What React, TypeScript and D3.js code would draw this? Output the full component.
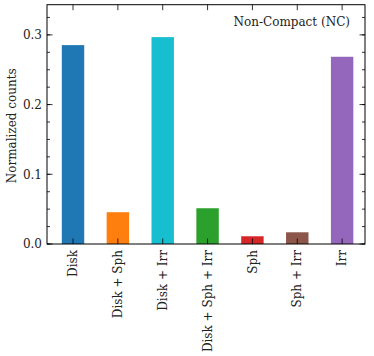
import React from "react";
import * as d3 from "d3";

const categories = ["Disk", "Disk + Sph", "Disk + Irr", "Disk + Sph + Irr", "Sph", "Sph + Irr", "Irr"];
const values = [0.2853, 0.0456, 0.2968, 0.0513, 0.0111, 0.0168, 0.2686];
const colors = ["#1f77b4", "#ff7f0e", "#17becf", "#2ca02c", "#d62728", "#8c564b", "#9467bd"];
const yTicks = [0.0, 0.1, 0.2, 0.3];
const yMinorTicks = d3.range(0, 0.3431, 0.025);
const title = "Non-Compact (NC)";
const yLabel = "Normalized counts";

const W = 374, H = 356;
const left = 47, right = 365, top = 4.7, bottom = 244;
const FONT = "'DejaVu Serif', serif";
const FS = 12;

export default function App() {
  const x = d3.scaleLinear().domain([-0.58, 6.51]).range([left, right]);
  const y = d3.scaleLinear().domain([0, 0.3433]).range([bottom, top]);
  const bw = (x(1) - x(0)) * 0.5;
  return (
    <svg width={W} height={H} style={{ position: "absolute", left: 0, top: 0 }}>
      <rect x={0} y={0} width={W} height={H} fill="#fff" />
      {values.map((v, i) => (
        <rect key={i} x={x(i) - bw / 2} y={y(v)} width={bw} height={y(0) - y(v)} fill={colors[i]} />
      ))}
      {yMinorTicks.map((t, i) => (
        <g key={"m" + i}>
          <line x1={left} x2={left + 3} y1={y(t)} y2={y(t)} stroke="#000" strokeWidth={0.8} />
          <line x1={right} x2={right - 3} y1={y(t)} y2={y(t)} stroke="#000" strokeWidth={0.8} />
        </g>
      ))}
      {yTicks.map((t, i) => (
        <g key={"y" + i}>
          <line x1={left} x2={left + 5.5} y1={y(t)} y2={y(t)} stroke="#000" strokeWidth={0.8} />
          <line x1={right} x2={right - 5.5} y1={y(t)} y2={y(t)} stroke="#000" strokeWidth={0.8} />
          <text x={42} y={y(t) + 4.3} textAnchor="end" fontFamily={FONT} fontSize={FS} fill="#222">
            {d3.format(".1f")(t)}
          </text>
        </g>
      ))}
      {categories.map((c, i) => (
        <g key={"x" + i}>
          <line x1={x(i)} x2={x(i)} y1={bottom} y2={bottom - 5.5} stroke="#000" strokeWidth={0.8} />
          <line x1={x(i)} x2={x(i)} y1={top} y2={top + 5.5} stroke="#000" strokeWidth={0.8} />
          <text
            transform={`translate(${x(i) + 4.2},250) rotate(-90)`}
            textAnchor="end"
            fontFamily={FONT}
            fontSize={FS}
            fill="#222"
          >
            {c}
          </text>
        </g>
      ))}
      <rect x={left} y={top} width={right - left} height={bottom - top} fill="none" stroke="#000" strokeWidth={1} />
      <text x={350} y={25.5} textAnchor="end" fontFamily={FONT} fontSize={FS} fill="#222">
        {title}
      </text>
      <text
        transform={`translate(15.5,${(top + bottom) / 2 + 1.5}) rotate(-90)`}
        textAnchor="middle"
        fontFamily={FONT}
        fontSize={FS}
        fill="#222"
      >
        {yLabel}
      </text>
    </svg>
  );
}
